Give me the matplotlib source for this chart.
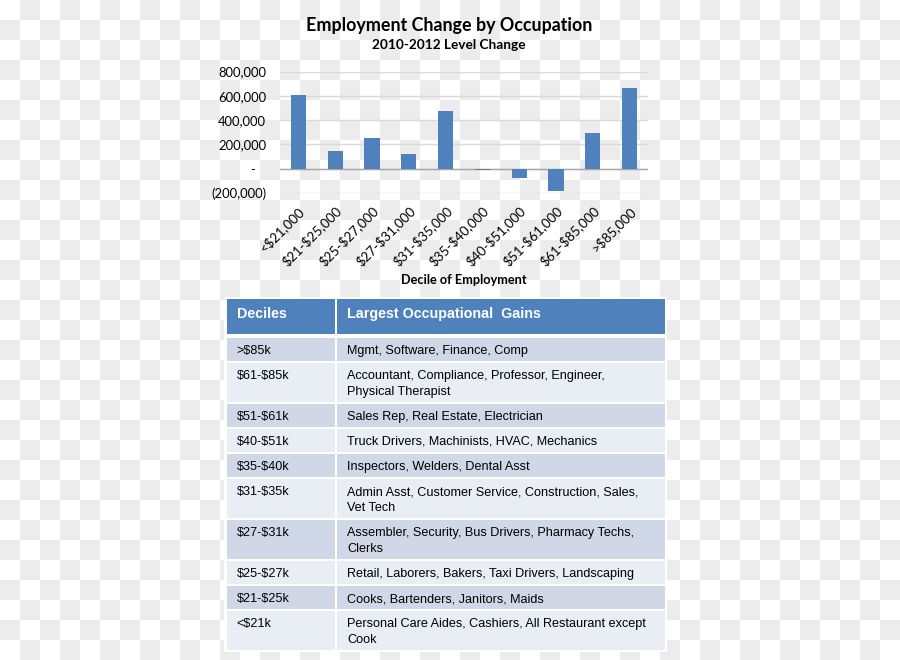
import numpy as np
import matplotlib
matplotlib.use("Agg")
import matplotlib.pyplot as plt
from matplotlib.patches import Rectangle
from matplotlib.transforms import ScaledTranslation
from matplotlib.ticker import FuncFormatter, FixedLocator
from matplotlib.colors import ListedColormap

plt.rcParams['text.parse_math'] = False

# ---------------- data ----------------
categories = ['<$21,000', '$21-$25,000', '$25-$27,000', '$27-$31,000', '$31-$35,000',
              '$35-$40,000', '$40-$51,000', '$51-$61,000', '$61-$85,000', '>$85,000']
changes = [605000, 148000, 255000, 125000, 478000, -12000, -80000, -186000, 295000, 662000]
yticks = [-200000, 0, 200000, 400000, 600000, 800000]

title = 'Employment Change by Occupation'
subtitle = '2010-2012 Level Change'
xlabel = 'Decile of Employment'

table_headers = ['Deciles', 'Largest Occupational  Gains']
table_deciles = ['>$85k', '$61-$85k', '$51-$61k', '$40-$51k', '$35-$40k',
                 '$31-$35k', '$27-$31k', '$25-$27k', '$21-$25k', '<$21k']
table_gains = ['Mgmt, Software, Finance, Comp',
               'Accountant, Compliance, Professor, Engineer,\nPhysical Therapist',
               'Sales Rep, Real Estate, Electrician',
               'Truck Drivers, Machinists, HVAC, Mechanics',
               'Inspectors, Welders, Dental Asst',
               'Admin Asst, Customer Service, Construction, Sales,\nVet Tech',
               'Assembler, Security, Bus Drivers, Pharmacy Techs,\nClerks',
               'Retail, Laborers, Bakers, Taxi Drivers, Landscaping',
               'Cooks, Bartenders, Janitors, Maids',
               'Personal Care Aides, Cashiers, All Restaurant except\nCook']

# ---------------- styles ----------------
W, H, DPI = 900, 660, 100
BAR_COLOR = '#4f81bd'
HEADER_COLOR = '#4f81bd'
ROW_DARK = '#d0d8e8'
ROW_LIGHT = '#e9edf4'
CHECK_GREY = '#ececec'
CHART_FONT = ['Lato', 'DejaVu Sans']
TABLE_FONT = ['Liberation Sans', 'DejaVu Sans']

fig = plt.figure(figsize=(W / DPI, H / DPI), dpi=DPI)
renderer = fig.canvas.get_renderer()

# background (checkerboard) axes in pixel coordinates
ax_bg = fig.add_axes([0, 0, 1, 1], zorder=0)
nx, ny = W // 20 + 1, H // 20 + 1
board = (np.add.outer(np.arange(ny), np.arange(nx)) % 2).astype(float)
ax_bg.imshow(board, cmap=ListedColormap(['#ffffff', CHECK_GREY]),
             extent=[0, nx * 20, ny * 20, 0], interpolation='nearest', aspect='auto', zorder=0)
ax_bg.set_xlim(0, W)
ax_bg.set_ylim(H, 0)
ax_bg.axis('off')


def fit_width(txt, target):
    bb = txt.get_window_extent(renderer)
    txt.set_fontsize(txt.get_fontsize() * target / bb.width)
    return txt.get_fontsize()


# titles
t1 = ax_bg.text(449, 25, title, ha='center', va='center', fontsize=14,
                fontweight='bold', family=CHART_FONT, color='black')
fit_width(t1, 288)
t2 = ax_bg.text(449, 45, subtitle, ha='center', va='center', fontsize=10,
                fontweight='bold', family=CHART_FONT, color='black')
fit_width(t2, 154)

# font size for tick labels
tmp = fig.text(0, 0, '800,000', fontsize=10, family=CHART_FONT)
tick_fs = fit_width(tmp, 48)
tmp.remove()

# ---------------- chart ----------------
left, right, top, bottom = 280, 648, 71.5, 193
ax = fig.add_axes([left / W, 1 - bottom / H, (right - left) / W, (bottom - top) / H], zorder=2)
ax.set_facecolor('none')
x = np.arange(len(categories))
ax.bar(x, changes, width=0.41, color=BAR_COLOR, zorder=3)
ax.set_xlim(-0.5, len(categories) - 0.5)
ax.set_ylim(yticks[0], yticks[-1])
ax.yaxis.set_major_locator(FixedLocator(yticks))


def acct(v, pos=None):
    if v == 0:
        return '-   '
    if v < 0:
        return '({:,.0f})'.format(-v)
    return '{:,.0f}'.format(v)


ax.yaxis.set_major_formatter(FuncFormatter(acct))
ax.grid(axis='y', color='#d9d9d9', linewidth=1.0, zorder=1)
ax.axhline(0, color='#a6a6a6', linewidth=1.0, zorder=2)
for s in ax.spines.values():
    s.set_visible(False)
ax.tick_params(axis='both', length=0)
ax.tick_params(axis='y', pad=10, labelsize=tick_fs)
ax.set_xticks(x)
ax.set_xticklabels(categories, rotation=45, ha='right', va='center',
                   rotation_mode='anchor', fontsize=tick_fs * 1.03, family=CHART_FONT)
ax.tick_params(axis='x', pad=0)
for lab in ax.get_yticklabels():
    lab.set_family(CHART_FONT)
offset = ScaledTranslation(4.0 / DPI, -15.5 / DPI, fig.dpi_scale_trans)
for lab in ax.xaxis.get_majorticklabels():
    lab.set_transform(lab.get_transform() + offset)

xl = ax.set_xlabel(xlabel, fontweight='bold', family=CHART_FONT, fontsize=11)
fit_width(xl, 126)
ax.xaxis.set_label_coords(0.5, ((H - 279.5) - (H - bottom)) / (bottom - top))
ax.xaxis.label.set_va('center')

# ---------------- table ----------------
col_x = [226.7, 337.3]
col_w = [108.3, 327.7]
pad_x = 10
head_top, head_h = 299, 35
row_start = 338
single_h, double_h, gap = 22.8, 38.6, 2.3
line_h = 15.7

# white frame
ax_bg.add_patch(Rectangle((224, 296.5), 443, 355, facecolor='white', edgecolor='none', zorder=1))

for j in range(2):
    ax_bg.add_patch(Rectangle((col_x[j], head_top), col_w[j], head_h,
                              facecolor=HEADER_COLOR, edgecolor='none', zorder=2))
hdr = []
for j, h in enumerate(table_headers):
    hdr.append(ax_bg.text(col_x[j] + pad_x, head_top + 18.7, h, ha='left', va='baseline',
                          fontsize=10.3, fontweight='bold', color='white',
                          family=TABLE_FONT, zorder=3))
hfs = fit_width(hdr[1], 194)
hdr[0].set_fontsize(hfs)

probe = ax_bg.text(0, -100, table_gains[0], fontsize=9, family=TABLE_FONT)
body_fs = fit_width(probe, 181)
probe.remove()

y0 = row_start
for i, (dec, gain) in enumerate(zip(table_deciles, table_gains)):
    nlines = gain.count('\n') + 1
    rh = single_h if nlines == 1 else double_h
    color = ROW_DARK if i % 2 == 0 else ROW_LIGHT
    for j in range(2):
        ax_bg.add_patch(Rectangle((col_x[j], y0), col_w[j], rh,
                                  facecolor=color, edgecolor='none', zorder=2))
    ax_bg.text(col_x[0] + pad_x, y0 + 15.8, dec, ha='left', va='baseline',
               fontsize=body_fs, color='black', family=TABLE_FONT, zorder=3)
    for k, line in enumerate(gain.split('\n')):
        ax_bg.text(col_x[1] + pad_x, y0 + 15.8 + k * line_h, line, ha='left', va='baseline',
                   fontsize=body_fs, color='black', family=TABLE_FONT, zorder=3)
    y0 += rh + gap

fig.savefig('out.png', dpi=DPI)
